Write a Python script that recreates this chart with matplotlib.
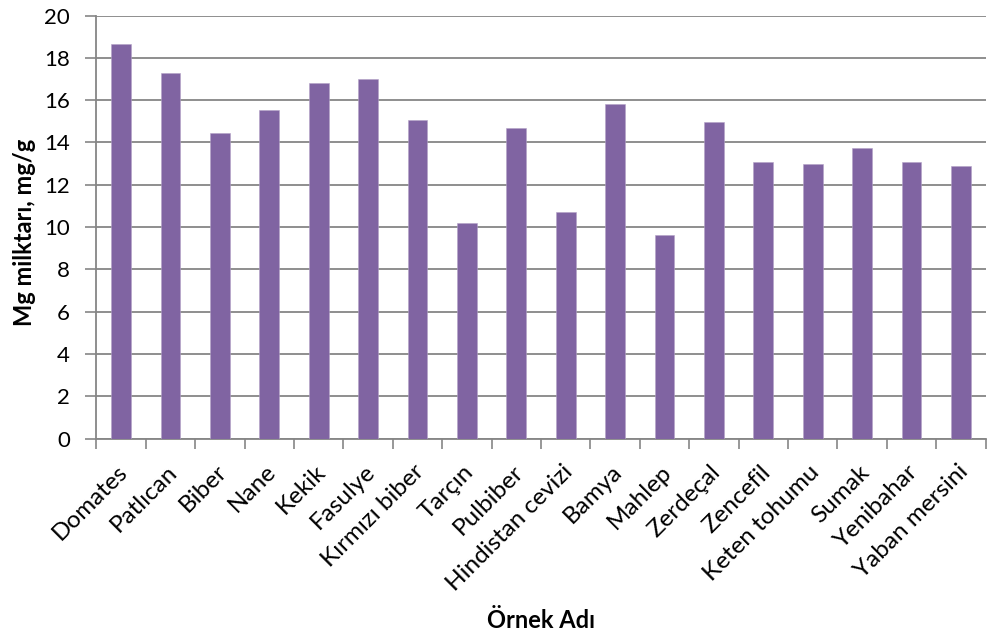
import matplotlib.pyplot as plt
import matplotlib.transforms as mtransforms
import numpy as np

plt.rcParams['font.family'] = ['Lato', 'DejaVu Sans']

# Mg content per sample (mg/g)
samples = ['Domates', 'Patlıcan', 'Biber', 'Nane', 'Kekik', 'Fasulye', 'Kırmızı biber',
           'Tarçın', 'Pulbiber', 'Hindistan cevizi', 'Bamya', 'Mahlep', 'Zerdeçal',
           'Zencefil', 'Keten tohumu', 'Sumak', 'Yenibahar', 'Yaban mersini']
mg_values = [18.66, 17.28, 14.44, 15.53, 16.83, 17.02, 15.07, 10.20, 14.69,
             10.71, 15.83, 9.65, 14.96, 13.06, 12.98, 13.76, 13.07, 12.91]
y_ticks = [0, 2, 4, 6, 8, 10, 12, 14, 16, 18, 20]

grid_col = '#868686'
bar_col = '#8064A2'

fig = plt.figure(figsize=(9.88, 6.40), dpi=100)
ax = fig.add_axes([96.3 / 988, 1 - 438.7 / 640, (985.7 - 96.3) / 988, (438.7 - 15.5) / 640])

x = np.arange(len(samples))
ax.bar(x, mg_values, width=0.4, color=bar_col, edgecolor='#b3a2c7', linewidth=0.4, zorder=3)

ax.set_xlim(-0.5, len(samples) - 0.5)
ax.set_ylim(0, 20)
ax.set_yticks(y_ticks)
ax.set_yticklabels([str(v) for v in y_ticks], fontsize=16)
ax.yaxis.grid(True, color=grid_col, linewidth=1.3, zorder=0)

# category boundaries carry the x tick marks
ax.set_xticks(np.arange(len(samples) + 1) - 0.5, minor=False)
ax.set_xticklabels([])
ax.set_xticks(x, minor=True)
ax.set_xticklabels(samples, minor=True, rotation=45, ha='right', va='top',
                   rotation_mode='anchor', fontsize=17.5)
ax.tick_params(axis='x', which='major', length=7, width=1.2, color=grid_col)
ax.tick_params(axis='x', which='minor', length=0, pad=14)
ax.tick_params(axis='y', length=8, width=1.2, color=grid_col, pad=11)

# nudge rotated names a little left/down
shift = mtransforms.ScaledTranslation(-4 / 100, -3 / 100, fig.dpi_scale_trans)
for lbl in ax.get_xticklabels(minor=True):
    lbl.set_transform(lbl.get_transform() + shift)

for side in ['top', 'right']:
    ax.spines[side].set_visible(False)
for side in ['left', 'bottom']:
    ax.spines[side].set_color(grid_col)
    ax.spines[side].set_linewidth(1.3)

fig.text(25 / 988, 1 - 232 / 640, 'Mg milktarı, mg/g', fontsize=17, fontweight='bold',
         rotation=90, ha='center', va='center')
fig.text(541 / 988, 1 - 620 / 640, 'Örnek Adı', fontsize=17,
         fontweight='bold', ha='center', va='center')

fig.savefig('out.png', dpi=100, facecolor='white')
